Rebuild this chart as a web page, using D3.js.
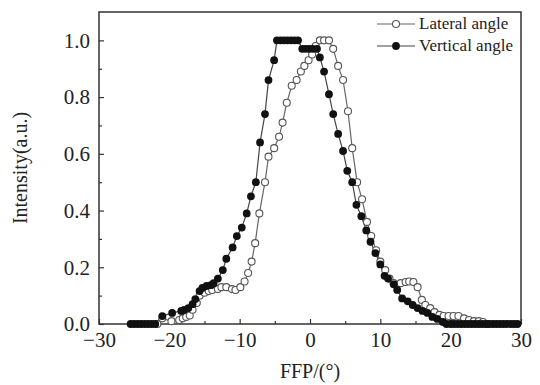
<!DOCTYPE html>
<html>
<head>
<meta charset="utf-8">
<script src="https://cdn.jsdelivr.net/npm/d3@7"></script>
<style>
  body { margin: 0; background: #fff; }
  svg text { font-family: "Liberation Serif", "Times New Roman", serif; fill: #222; }
</style>
</head>
<body>
<div id="chartDiv"></div>
<script>
// lateral angle (open circles)
let lateralX = [-21.7, -21, -19.7, -18.6, -18.1, -17.6, -17.1, -16.7, -16.1, -15.7, -15, -14.4, -13.9, -13.1, -12.6, -11.9, -11.1, -10.6, -9.9, -9.3, -8.8, -8.3, -7.8, -7.2, -6.4, -5.9, -5.1, -4.4, -3.9, -3.3, -2.6, -1.9, -1.3, -0.8, -0.2, 0.3, 0.8, 1.4, 2.0, 2.7, 3.3, 4.0, 4.7, 5.4, 6.0, 6.7, 7.4, 8.1, 8.7, 9.4, 10.0, 10.7, 11.3, 11.9, 12.9, 13.6, 14.1, 14.7, 15.3, 15.9, 16.4, 17.1, 17.7, 18.4, 19.0, 19.7, 20.4, 21.1, 21.9, 22.6, 23.3, 24.0, 24.6, 25.2];
let lateralY = [0, 0.02, 0.01, 0.014, 0.02, 0.025, 0.03, 0.05, 0.074, 0.10, 0.11, 0.116, 0.12, 0.123, 0.13, 0.13, 0.123, 0.12, 0.13, 0.15, 0.18, 0.22, 0.285, 0.39, 0.50, 0.59, 0.62, 0.66, 0.71, 0.78, 0.84, 0.86, 0.89, 0.91, 0.93, 0.95, 0.98, 1.0, 1.0, 1.0, 0.97, 0.91, 0.86, 0.75, 0.62, 0.50, 0.44, 0.36, 0.31, 0.26, 0.22, 0.19, 0.16, 0.144, 0.144, 0.148, 0.15, 0.148, 0.13, 0.085, 0.067, 0.056, 0.042, 0.032, 0.028, 0.028, 0.028, 0.028, 0.02, 0.014, 0.01, 0.01, 0.007, 0];

// vertical angle (filled circles)
let verticalX = [-25.5, -25, -24.5, -24, -23.5, -23, -22.5, -22, -21, -19.6, -18.3, -17.9, -17.3, -16.7, -16.3, -15.7, -15.3, -14.7, -14.1, -13.7, -13.1, -12.4, -11.9, -11, -10.4, -9.7, -9, -8.4, -7.7, -7.1, -6.4, -5.9, -5.1, -4.7, -4.2, -3.7, -3.2, -2.7, -2.2, -1.7, -1.1, -0.6, -0.1, 0.4, 1.0, 1.4, 2.0, 2.7, 3.3, 4.0, 4.7, 5.3, 6.0, 6.6, 7.3, 8.0, 8.6, 9.3, 10.0, 10.6, 11.1, 11.9, 12.4, 13.1, 13.9, 14.6, 15.3, 16.0, 16.7, 17.4, 18.1, 18.9, 19.4, 20, 20.5, 21, 21.5, 22, 22.5, 23, 23.5, 24, 24.5, 25, 25.5, 26, 26.5, 27, 27.5, 28, 28.5, 29, 29.5];
let verticalY = [0, 0, 0, 0, 0, 0, 0, 0, 0.028, 0.039, 0.046, 0.05, 0.056, 0.07, 0.088, 0.116, 0.127, 0.134, 0.137, 0.144, 0.16, 0.19, 0.23, 0.27, 0.31, 0.34, 0.39, 0.45, 0.50, 0.64, 0.74, 0.86, 0.93, 1.0, 1.0, 1.0, 1.0, 1.0, 1.0, 1.0, 0.97, 0.97, 0.97, 0.97, 0.97, 0.94, 0.89, 0.81, 0.74, 0.67, 0.61, 0.54, 0.50, 0.42, 0.38, 0.33, 0.29, 0.25, 0.21, 0.17, 0.16, 0.14, 0.12, 0.09, 0.08, 0.067, 0.056, 0.046, 0.039, 0.025, 0.018, 0.007, 0, 0, 0, 0, 0, 0, 0, 0, 0, 0, 0, 0, 0, 0, 0, 0, 0, 0, 0, 0, 0];

let xTicks = [-30, -20, -10, 0, 10, 20, 30];
let xMinorTicks = [-25, -15, -5, 5, 15, 25];
let yTicks = [0, 0.2, 0.4, 0.6, 0.8, 1.0];
let yMinorTicks = [0.1, 0.3, 0.5, 0.7, 0.9];
let seriesNames = ["Lateral angle", "Vertical angle"];

let svgW = 540, svgH = 385;
let plotLeft = 99, plotRight = 521, plotTop = 12, plotBottom = 324;

let svg = d3.select("#chartDiv").append("svg")
    .attr("width", svgW)
    .attr("height", svgH);

let xScale = d3.scaleLinear().domain([-30, 30]).range([plotLeft, plotRight]);
let yScale = d3.scaleLinear().domain([0, 1.1]).range([plotBottom, plotTop]);

// frame
svg.append("rect")
    .attr("x", plotLeft).attr("y", plotTop)
    .attr("width", plotRight - plotLeft).attr("height", plotBottom - plotTop)
    .attr("fill", "none").attr("stroke", "#333").attr("stroke-width", 1.5);

// axes, ticks pointing inward
let xAxis = d3.axisBottom(xScale).tickValues(xTicks).tickSizeInner(-5).tickSizeOuter(0)
    .tickPadding(8).tickFormat(d => d < 0 ? "\u2212" + Math.abs(d) : d);
let xg = svg.append("g").attr("transform", "translate(0," + plotBottom + ")").call(xAxis);
xg.select(".domain").remove();

let xMinor = d3.axisBottom(xScale).tickValues(xMinorTicks).tickSizeInner(-3).tickSizeOuter(0).tickFormat("");
svg.append("g").attr("transform", "translate(0," + plotBottom + ")").call(xMinor)
    .select(".domain").remove();

let yAxis = d3.axisLeft(yScale).tickValues(yTicks).tickSizeInner(-5).tickSizeOuter(0)
    .tickPadding(9).tickFormat(d3.format(".1f"));
let yg = svg.append("g").attr("transform", "translate(" + plotLeft + ",0)").call(yAxis);
yg.select(".domain").remove();

let yMinor = d3.axisLeft(yScale).tickValues(yMinorTicks).tickSizeInner(-3).tickSizeOuter(0).tickFormat("");
svg.append("g").attr("transform", "translate(" + plotLeft + ",0)").call(yMinor)
    .select(".domain").remove();

svg.selectAll(".tick line").attr("stroke", "#333").attr("stroke-width", 1.2);
svg.selectAll(".tick text")
    .style("font-family", "'Liberation Serif', serif")
    .style("font-size", "21px").attr("fill", "#222");

// axis titles
svg.append("text")
    .attr("x", 310).attr("y", 378)
    .attr("text-anchor", "middle").style("font-size", "20px")
    .text("FFP/(\u00b0)");

svg.append("text")
    .attr("transform", "translate(27," + (plotTop + plotBottom) / 2 + ") rotate(-90)")
    .attr("text-anchor", "middle").style("font-size", "20px")
    .text("Intensity(a.u.)");

let lateralData = lateralX.map((x, i) => ({x: x, y: lateralY[i]}));
let verticalData = verticalX.map((x, i) => ({x: x, y: verticalY[i]}));

let valueline = d3.line()
    .x(d => xScale(d.x))
    .y(d => yScale(d.y));

let plotGroup = svg.append("g");

plotGroup.append("path").datum(lateralData)
    .attr("d", valueline).attr("fill", "none")
    .attr("stroke", "#666").attr("stroke-width", 1.2);
plotGroup.append("path").datum(verticalData)
    .attr("d", valueline).attr("fill", "none")
    .attr("stroke", "#444").attr("stroke-width", 1.2);

plotGroup.selectAll(".lat").data(lateralData).enter().append("circle")
    .attr("class", "lat")
    .attr("cx", d => xScale(d.x)).attr("cy", d => yScale(d.y))
    .attr("r", 3.5).attr("fill", "#fff").attr("stroke", "#555").attr("stroke-width", 1.1);

plotGroup.selectAll(".ver").data(verticalData).enter().append("circle")
    .attr("class", "ver")
    .attr("cx", d => xScale(d.x)).attr("cy", d => yScale(d.y))
    .attr("r", 3.9).attr("fill", "#111");

// legend
let legend = svg.append("g");
seriesNames.forEach(function(name, i){
    let ly = 24 + i * 22;
    legend.append("line")
        .attr("x1", 377).attr("x2", 415).attr("y1", ly).attr("y2", ly)
        .attr("stroke", i == 0 ? "#666" : "#444").attr("stroke-width", 1.2);
    legend.append("circle")
        .attr("cx", 396).attr("cy", ly).attr("r", i == 0 ? 3.5 : 3.9)
        .attr("fill", i == 0 ? "#fff" : "#111")
        .attr("stroke", i == 0 ? "#555" : "none").attr("stroke-width", 1.1);
    legend.append("text")
        .attr("x", 419).attr("y", ly + 5)
        .style("font-size", "17px")
        .text(name);
});
</script>
</body>
</html>
